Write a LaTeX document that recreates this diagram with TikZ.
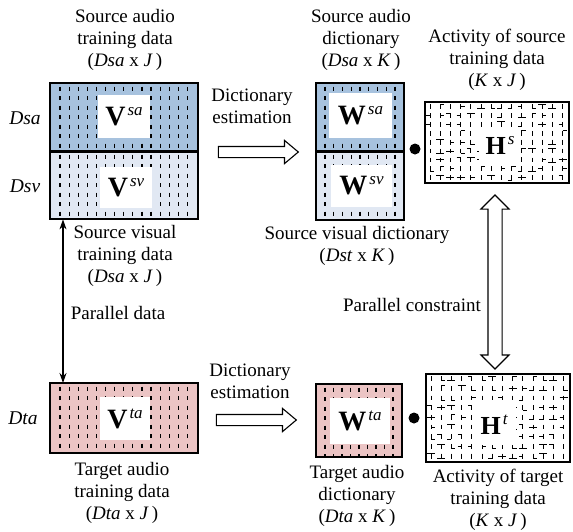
\documentclass[tikz,border=0pt]{standalone}
\usepackage{fontspec}
\setmainfont{Liberation Serif}
\usetikzlibrary{shapes.arrows,calc,arrows.meta}
\definecolor{sablue}{RGB}{167,194,222}
\definecolor{svblue}{RGB}{225,232,243}
\definecolor{tapink}{RGB}{235,196,196}
\newcommand\mlab[3]{{\fontsize{#3}{#3}\selectfont\bfseries #1}\hspace{2pt}\raisebox{10pt}{\fontsize{17}{17}\selectfont\itshape #2}}
\newcommand\myhpat[5]{% x0, y0, dy, ncols-1, nrows-1
  \foreach \i in {0,...,#4}{\foreach \j in {0,...,#5}{
    \pgfmathsetmacro{\xx}{#1+\i*10.2}
    \pgfmathsetmacro{\yy}{#2+\j*#3}
    \pgfmathrandominteger{\hp}{0}{2}
    \pgfmathrandominteger{\hs}{0}{4}
    \pgfmathsetmacro{\hy}{\yy+(\hp-1)*2.4}
    \draw[hl] (\xx,\yy-2.4) -- (\xx,\yy+2.4);
    \ifcase\hs \draw[hl] (\xx-4,\hy) -- (\xx,\hy);
    \or \draw[hl] (\xx,\hy) -- (\xx+4,\hy);
    \or \draw[hl] (\xx-4,\hy) -- (\xx+4,\hy);
    \or \or \fi
  }}}
\begin{document}
\begin{tikzpicture}[x=1pt,y=-1pt,
  blk/.style={draw, line width=1.4pt, anchor=north west, inner sep=0pt},
  tick/.style={line width=1.2pt, dash pattern=on 4.2pt off 5.3pt},
  hl/.style={line width=0.95pt},
  wbox/.style={fill=white, inner sep=0pt},
  lbl/.style={font=\fontsize{19}{22}\selectfont, align=center, inner sep=0pt},
  side/.style={font=\fontsize{19.5}{22}\selectfont\itshape, inner sep=0pt},
  fat/.style={draw, line width=1.1pt, fill=white, single arrow, single arrow head extend=6pt,
    single arrow tip angle=80, inner xsep=0pt, inner ysep=5pt, minimum height=80pt},
  dfat/.style={draw, line width=1.1pt, fill=white, double arrow, double arrow head extend=7pt,
    double arrow tip angle=90, inner xsep=0pt, inner ysep=6.5pt, minimum height=174pt, rotate=90},
  dot/.style={circle, fill=black, inner sep=0pt, minimum size=11pt}
]
\useasboundingbox (0,0) rectangle (573,531);
\pgfmathsetseed{4242}

% ---------- V blocks ----------
\node[blk, fill=sablue, minimum width=147pt, minimum height=68pt] (Vsa) at (50,83) {};
\node[blk, fill=svblue, minimum width=147pt, minimum height=67pt] (Vsv) at (50,151) {};
\node[blk, fill=tapink, minimum width=147pt, minimum height=69pt] (Vta) at (50,383) {};
\foreach \i in {0,...,14}{
  \draw[tick] ($(Vsa.north west)+({10+\i*9.1},3.5)$) -- ($(Vsa.south west)+({10+\i*9.1},0)$);
  \draw[tick] ($(Vsv.north west)+({10+\i*9.1},3.5)$) -- ($(Vsv.south west)+({10+\i*9.1},0)$);
  \draw[tick] ($(Vta.north west)+({10+\i*9.1},3.5)$) -- ($(Vta.south west)+({10+\i*9.1},0)$);
}
\node[wbox, minimum width=52pt, minimum height=43pt] (LVsa) at (124,116.5) {\mlab{V}{sa}{28}};
\node[wbox, minimum width=52pt, minimum height=41pt] (LVsv) at (126,187.5) {\mlab{V}{sv}{28}};
\node[wbox, minimum width=50pt, minimum height=43pt] (LVta) at (125,418.5) {\mlab{V}{ta}{28}};
\draw[line width=1.4pt] (Vsa.north west) rectangle (Vsa.south east);
\draw[line width=1.4pt] (Vsv.north west) rectangle (Vsv.south east);
\draw[line width=1.4pt] (Vta.north west) rectangle (Vta.south east);

% ---------- W blocks ----------
\node[blk, fill=sablue, minimum width=87pt, minimum height=68pt] (Wsa) at (316,83) {};
\node[blk, fill=svblue, minimum width=87pt, minimum height=68pt] (Wsv) at (316,151) {};
\node[blk, fill=tapink, minimum width=85pt, minimum height=72pt] (Wta) at (316,384) {};
\foreach \i in {0,...,8}{
  \draw[tick] ($(Wsa.north west)+({9+\i*8.75},3.5)$) -- ($(Wsa.south west)+({9+\i*8.75},0)$);
  \draw[tick] ($(Wsv.north west)+({9+\i*8.75},3.5)$) -- ($(Wsv.south west)+({9+\i*8.75},0)$);
  \draw[tick] ($(Wta.north west)+({9+\i*8.5},3.5)$) -- ($(Wta.south west)+({9+\i*8.5},0)$);
}
\node[wbox, minimum width=63pt, minimum height=45pt] (LWsa) at (360.5,115.5) {\mlab{W}{sa}{28}};
\node[wbox, minimum width=61pt, minimum height=42pt] (LWsv) at (361.5,186) {\mlab{W}{sv}{28}};
\node[wbox, minimum width=60pt, minimum height=46pt] (LWta) at (360,421) {\mlab{W}{ta}{28}};
\draw[line width=1.4pt] (Wsa.north west) rectangle (Wsa.south east);
\draw[line width=1.4pt] (Wsv.north west) rectangle (Wsv.south east);
\draw[line width=1.4pt] (Wta.north west) rectangle (Wta.south east);

% ---------- H blocks ----------
\node[blk, fill=white, minimum width=143pt, minimum height=80pt] (Hs) at (425,102) {};
\node[blk, fill=white, minimum width=143pt, minimum height=87pt] (Ht) at (426,374) {};
\myhpat{430}{106.5}{8.9}{13}{8}
\myhpat{431}{378.5}{9.7}{13}{8}
\node[wbox, minimum width=42pt, minimum height=36pt] (LHs) at (500,145) {\mlab{H}{s}{26}};
\node[wbox, minimum width=44pt, minimum height=40pt] (LHt) at (494,425) {\mlab{H}{t}{26}};
\draw[line width=1.4pt] (Hs.north west) rectangle (Hs.south east);
\draw[line width=1.4pt] (Ht.north west) rectangle (Ht.south east);

% ---------- dots ----------
\node[dot] (d1) at (415,149) {};
\node[dot] (d2) at (414,418) {};

% ---------- arrows ----------
\node[fat] (A1) at (255,152) {};
\node[fat] (A2) at (253,420) {};
\node[dfat] (A3) at (495,282) {};
\draw[line width=1.1pt, {Stealth[length=10pt,width=7pt]}-{Stealth[length=10pt,width=7pt]}]
  ($(Vsv.south west)+(13,0)$) -- ($(Vta.north west)+(13,0)$);

% ---------- labels ----------
\node[lbl] (t1) at (125,40) {Source audio\\training data\\(\textit{Dsa} x \textit{J}\,)};
\node[lbl] (t2) at (361,40) {Source audio\\dictionary\\(\textit{Dsa} x \textit{K}\,)};
\node[lbl] (t3) at (497,60) {Activity of source\\training data\\(\textit{K} x \textit{J}\,)};
\node[lbl] (t4) at (252,106) {Dictionary\\estimation};
\node[lbl] (t5) at (125,256) {Source visual\\training data\\(\textit{Dsa} x \textit{J}\,)};
\node[lbl] (t6) at (118,313) {Parallel data};
\node[lbl] (t7) at (357,246) {Source visual dictionary\\(\textit{Dst} x \textit{K}\,)};
\node[lbl] (t8) at (412,305) {Parallel constraint};
\node[lbl] (t9) at (250,381) {Dictionary\\estimation};
\node[lbl] (t10) at (122,493) {Target audio\\training data\\(\textit{Dta} x \textit{J}\,)};
\node[lbl] (t11) at (357,496) {Target audio\\dictionary\\(\textit{Dta} x \textit{K}\,)};
\node[lbl] (t12) at (498,500) {Activity of target\\training data\\(\textit{K} x \textit{J}\,)};
\node[side] (s1) at (25,118) {Dsa};
\node[side] (s2) at (25,186) {Dsv};
\node[side] (s3) at (23,418) {Dta};
\end{tikzpicture}
\end{document}
